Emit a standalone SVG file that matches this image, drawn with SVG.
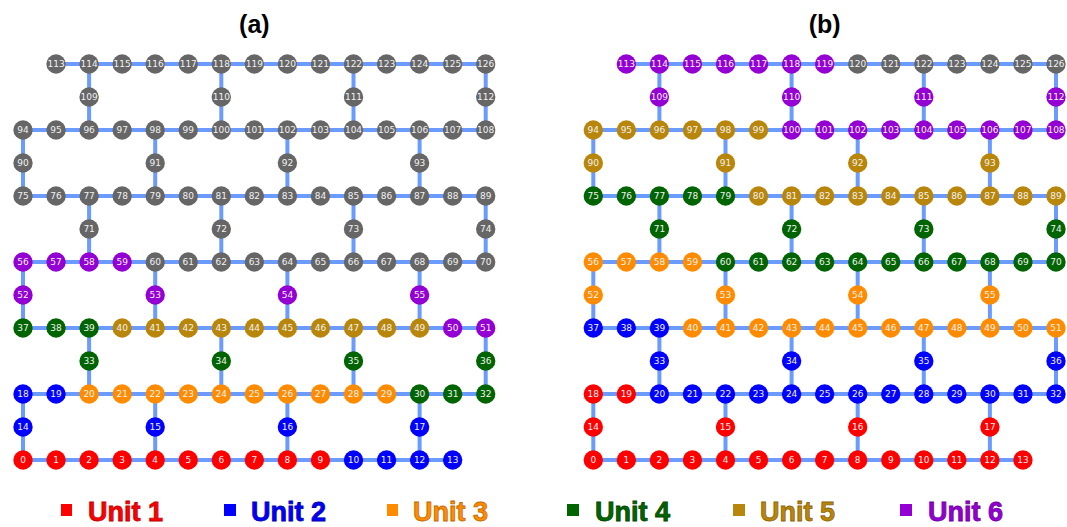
<svg xmlns="http://www.w3.org/2000/svg" width="1067" height="527" viewBox="0 0 1067 527">
<style>
.edges{fill:none;stroke:#6b9bff;stroke-width:4;stroke-linecap:butt}
.n circle{r:9.7px}
.n text{font-family:"DejaVu Sans",sans-serif;font-size:9px;fill:#f2f2f2;text-anchor:middle}
.u1 circle{fill:#ff0000}.u2 circle{fill:#0000ff}.u3 circle{fill:#ff8c00}.u4 circle{fill:#006400}.u5 circle{fill:#b8860b}.u6 circle{fill:#9400d3}.g circle{fill:#666666}
.title{font-family:"Liberation Sans",Arial,sans-serif;font-weight:bold;font-size:25px;fill:#000;text-anchor:middle}
.leg{font-family:"Liberation Sans",Arial,sans-serif;font-weight:bold;font-size:27px;stroke-width:0.8}
</style>
<defs>
<path id="lattice" d="M56.05 64H485.7 M23 130H485.7 M23 196H485.7 M23 262H485.7 M23 328H485.7 M23 394H485.7 M23 460H452.65 M89.1 64V130 M221.3 64V130 M353.5 64V130 M485.7 64V130 M23 130V196 M155.2 130V196 M287.4 130V196 M419.6 130V196 M89.1 196V262 M221.3 196V262 M353.5 196V262 M485.7 196V262 M23 262V328 M155.2 262V328 M287.4 262V328 M419.6 262V328 M89.1 328V394 M221.3 328V394 M353.5 328V394 M485.7 328V394 M23 394V460 M155.2 394V460 M287.4 394V460 M419.6 394V460"/>
</defs>
<rect width="1067" height="527" fill="#ffffff"/>
<text class="title" x="254.35" y="33">(a)</text>
<text class="title" x="824.65" y="33">(b)</text>
<g id="connectors">
<use href="#lattice" class="edges"/>
<use href="#lattice" class="edges" transform="translate(570.3,0)"/>
</g>
<g id="panel-a">
<g id="a-q0" class="n u1" transform="translate(23,460)"><circle/><text y="3.2">0</text></g>
<g id="a-q1" class="n u1" transform="translate(56.05,460)"><circle/><text y="3.2">1</text></g>
<g id="a-q2" class="n u1" transform="translate(89.1,460)"><circle/><text y="3.2">2</text></g>
<g id="a-q3" class="n u1" transform="translate(122.15,460)"><circle/><text y="3.2">3</text></g>
<g id="a-q4" class="n u1" transform="translate(155.2,460)"><circle/><text y="3.2">4</text></g>
<g id="a-q5" class="n u1" transform="translate(188.25,460)"><circle/><text y="3.2">5</text></g>
<g id="a-q6" class="n u1" transform="translate(221.3,460)"><circle/><text y="3.2">6</text></g>
<g id="a-q7" class="n u1" transform="translate(254.35,460)"><circle/><text y="3.2">7</text></g>
<g id="a-q8" class="n u1" transform="translate(287.4,460)"><circle/><text y="3.2">8</text></g>
<g id="a-q9" class="n u1" transform="translate(320.45,460)"><circle/><text y="3.2">9</text></g>
<g id="a-q10" class="n u2" transform="translate(353.5,460)"><circle/><text y="3.2">10</text></g>
<g id="a-q11" class="n u2" transform="translate(386.55,460)"><circle/><text y="3.2">11</text></g>
<g id="a-q12" class="n u2" transform="translate(419.6,460)"><circle/><text y="3.2">12</text></g>
<g id="a-q13" class="n u2" transform="translate(452.65,460)"><circle/><text y="3.2">13</text></g>
<g id="a-q14" class="n u2" transform="translate(23,427)"><circle/><text y="3.2">14</text></g>
<g id="a-q15" class="n u2" transform="translate(155.2,427)"><circle/><text y="3.2">15</text></g>
<g id="a-q16" class="n u2" transform="translate(287.4,427)"><circle/><text y="3.2">16</text></g>
<g id="a-q17" class="n u2" transform="translate(419.6,427)"><circle/><text y="3.2">17</text></g>
<g id="a-q18" class="n u2" transform="translate(23,394)"><circle/><text y="3.2">18</text></g>
<g id="a-q19" class="n u2" transform="translate(56.05,394)"><circle/><text y="3.2">19</text></g>
<g id="a-q20" class="n u3" transform="translate(89.1,394)"><circle/><text y="3.2">20</text></g>
<g id="a-q21" class="n u3" transform="translate(122.15,394)"><circle/><text y="3.2">21</text></g>
<g id="a-q22" class="n u3" transform="translate(155.2,394)"><circle/><text y="3.2">22</text></g>
<g id="a-q23" class="n u3" transform="translate(188.25,394)"><circle/><text y="3.2">23</text></g>
<g id="a-q24" class="n u3" transform="translate(221.3,394)"><circle/><text y="3.2">24</text></g>
<g id="a-q25" class="n u3" transform="translate(254.35,394)"><circle/><text y="3.2">25</text></g>
<g id="a-q26" class="n u3" transform="translate(287.4,394)"><circle/><text y="3.2">26</text></g>
<g id="a-q27" class="n u3" transform="translate(320.45,394)"><circle/><text y="3.2">27</text></g>
<g id="a-q28" class="n u3" transform="translate(353.5,394)"><circle/><text y="3.2">28</text></g>
<g id="a-q29" class="n u3" transform="translate(386.55,394)"><circle/><text y="3.2">29</text></g>
<g id="a-q30" class="n u4" transform="translate(419.6,394)"><circle/><text y="3.2">30</text></g>
<g id="a-q31" class="n u4" transform="translate(452.65,394)"><circle/><text y="3.2">31</text></g>
<g id="a-q32" class="n u4" transform="translate(485.7,394)"><circle/><text y="3.2">32</text></g>
<g id="a-q33" class="n u4" transform="translate(89.1,361)"><circle/><text y="3.2">33</text></g>
<g id="a-q34" class="n u4" transform="translate(221.3,361)"><circle/><text y="3.2">34</text></g>
<g id="a-q35" class="n u4" transform="translate(353.5,361)"><circle/><text y="3.2">35</text></g>
<g id="a-q36" class="n u4" transform="translate(485.7,361)"><circle/><text y="3.2">36</text></g>
<g id="a-q37" class="n u4" transform="translate(23,328)"><circle/><text y="3.2">37</text></g>
<g id="a-q38" class="n u4" transform="translate(56.05,328)"><circle/><text y="3.2">38</text></g>
<g id="a-q39" class="n u4" transform="translate(89.1,328)"><circle/><text y="3.2">39</text></g>
<g id="a-q40" class="n u5" transform="translate(122.15,328)"><circle/><text y="3.2">40</text></g>
<g id="a-q41" class="n u5" transform="translate(155.2,328)"><circle/><text y="3.2">41</text></g>
<g id="a-q42" class="n u5" transform="translate(188.25,328)"><circle/><text y="3.2">42</text></g>
<g id="a-q43" class="n u5" transform="translate(221.3,328)"><circle/><text y="3.2">43</text></g>
<g id="a-q44" class="n u5" transform="translate(254.35,328)"><circle/><text y="3.2">44</text></g>
<g id="a-q45" class="n u5" transform="translate(287.4,328)"><circle/><text y="3.2">45</text></g>
<g id="a-q46" class="n u5" transform="translate(320.45,328)"><circle/><text y="3.2">46</text></g>
<g id="a-q47" class="n u5" transform="translate(353.5,328)"><circle/><text y="3.2">47</text></g>
<g id="a-q48" class="n u5" transform="translate(386.55,328)"><circle/><text y="3.2">48</text></g>
<g id="a-q49" class="n u5" transform="translate(419.6,328)"><circle/><text y="3.2">49</text></g>
<g id="a-q50" class="n u6" transform="translate(452.65,328)"><circle/><text y="3.2">50</text></g>
<g id="a-q51" class="n u6" transform="translate(485.7,328)"><circle/><text y="3.2">51</text></g>
<g id="a-q52" class="n u6" transform="translate(23,295)"><circle/><text y="3.2">52</text></g>
<g id="a-q53" class="n u6" transform="translate(155.2,295)"><circle/><text y="3.2">53</text></g>
<g id="a-q54" class="n u6" transform="translate(287.4,295)"><circle/><text y="3.2">54</text></g>
<g id="a-q55" class="n u6" transform="translate(419.6,295)"><circle/><text y="3.2">55</text></g>
<g id="a-q56" class="n u6" transform="translate(23,262)"><circle/><text y="3.2">56</text></g>
<g id="a-q57" class="n u6" transform="translate(56.05,262)"><circle/><text y="3.2">57</text></g>
<g id="a-q58" class="n u6" transform="translate(89.1,262)"><circle/><text y="3.2">58</text></g>
<g id="a-q59" class="n u6" transform="translate(122.15,262)"><circle/><text y="3.2">59</text></g>
<g id="a-q60" class="n g" transform="translate(155.2,262)"><circle/><text y="3.2">60</text></g>
<g id="a-q61" class="n g" transform="translate(188.25,262)"><circle/><text y="3.2">61</text></g>
<g id="a-q62" class="n g" transform="translate(221.3,262)"><circle/><text y="3.2">62</text></g>
<g id="a-q63" class="n g" transform="translate(254.35,262)"><circle/><text y="3.2">63</text></g>
<g id="a-q64" class="n g" transform="translate(287.4,262)"><circle/><text y="3.2">64</text></g>
<g id="a-q65" class="n g" transform="translate(320.45,262)"><circle/><text y="3.2">65</text></g>
<g id="a-q66" class="n g" transform="translate(353.5,262)"><circle/><text y="3.2">66</text></g>
<g id="a-q67" class="n g" transform="translate(386.55,262)"><circle/><text y="3.2">67</text></g>
<g id="a-q68" class="n g" transform="translate(419.6,262)"><circle/><text y="3.2">68</text></g>
<g id="a-q69" class="n g" transform="translate(452.65,262)"><circle/><text y="3.2">69</text></g>
<g id="a-q70" class="n g" transform="translate(485.7,262)"><circle/><text y="3.2">70</text></g>
<g id="a-q71" class="n g" transform="translate(89.1,229)"><circle/><text y="3.2">71</text></g>
<g id="a-q72" class="n g" transform="translate(221.3,229)"><circle/><text y="3.2">72</text></g>
<g id="a-q73" class="n g" transform="translate(353.5,229)"><circle/><text y="3.2">73</text></g>
<g id="a-q74" class="n g" transform="translate(485.7,229)"><circle/><text y="3.2">74</text></g>
<g id="a-q75" class="n g" transform="translate(23,196)"><circle/><text y="3.2">75</text></g>
<g id="a-q76" class="n g" transform="translate(56.05,196)"><circle/><text y="3.2">76</text></g>
<g id="a-q77" class="n g" transform="translate(89.1,196)"><circle/><text y="3.2">77</text></g>
<g id="a-q78" class="n g" transform="translate(122.15,196)"><circle/><text y="3.2">78</text></g>
<g id="a-q79" class="n g" transform="translate(155.2,196)"><circle/><text y="3.2">79</text></g>
<g id="a-q80" class="n g" transform="translate(188.25,196)"><circle/><text y="3.2">80</text></g>
<g id="a-q81" class="n g" transform="translate(221.3,196)"><circle/><text y="3.2">81</text></g>
<g id="a-q82" class="n g" transform="translate(254.35,196)"><circle/><text y="3.2">82</text></g>
<g id="a-q83" class="n g" transform="translate(287.4,196)"><circle/><text y="3.2">83</text></g>
<g id="a-q84" class="n g" transform="translate(320.45,196)"><circle/><text y="3.2">84</text></g>
<g id="a-q85" class="n g" transform="translate(353.5,196)"><circle/><text y="3.2">85</text></g>
<g id="a-q86" class="n g" transform="translate(386.55,196)"><circle/><text y="3.2">86</text></g>
<g id="a-q87" class="n g" transform="translate(419.6,196)"><circle/><text y="3.2">87</text></g>
<g id="a-q88" class="n g" transform="translate(452.65,196)"><circle/><text y="3.2">88</text></g>
<g id="a-q89" class="n g" transform="translate(485.7,196)"><circle/><text y="3.2">89</text></g>
<g id="a-q90" class="n g" transform="translate(23,163)"><circle/><text y="3.2">90</text></g>
<g id="a-q91" class="n g" transform="translate(155.2,163)"><circle/><text y="3.2">91</text></g>
<g id="a-q92" class="n g" transform="translate(287.4,163)"><circle/><text y="3.2">92</text></g>
<g id="a-q93" class="n g" transform="translate(419.6,163)"><circle/><text y="3.2">93</text></g>
<g id="a-q94" class="n g" transform="translate(23,130)"><circle/><text y="3.2">94</text></g>
<g id="a-q95" class="n g" transform="translate(56.05,130)"><circle/><text y="3.2">95</text></g>
<g id="a-q96" class="n g" transform="translate(89.1,130)"><circle/><text y="3.2">96</text></g>
<g id="a-q97" class="n g" transform="translate(122.15,130)"><circle/><text y="3.2">97</text></g>
<g id="a-q98" class="n g" transform="translate(155.2,130)"><circle/><text y="3.2">98</text></g>
<g id="a-q99" class="n g" transform="translate(188.25,130)"><circle/><text y="3.2">99</text></g>
<g id="a-q100" class="n g" transform="translate(221.3,130)"><circle/><text y="3.2">100</text></g>
<g id="a-q101" class="n g" transform="translate(254.35,130)"><circle/><text y="3.2">101</text></g>
<g id="a-q102" class="n g" transform="translate(287.4,130)"><circle/><text y="3.2">102</text></g>
<g id="a-q103" class="n g" transform="translate(320.45,130)"><circle/><text y="3.2">103</text></g>
<g id="a-q104" class="n g" transform="translate(353.5,130)"><circle/><text y="3.2">104</text></g>
<g id="a-q105" class="n g" transform="translate(386.55,130)"><circle/><text y="3.2">105</text></g>
<g id="a-q106" class="n g" transform="translate(419.6,130)"><circle/><text y="3.2">106</text></g>
<g id="a-q107" class="n g" transform="translate(452.65,130)"><circle/><text y="3.2">107</text></g>
<g id="a-q108" class="n g" transform="translate(485.7,130)"><circle/><text y="3.2">108</text></g>
<g id="a-q109" class="n g" transform="translate(89.1,97)"><circle/><text y="3.2">109</text></g>
<g id="a-q110" class="n g" transform="translate(221.3,97)"><circle/><text y="3.2">110</text></g>
<g id="a-q111" class="n g" transform="translate(353.5,97)"><circle/><text y="3.2">111</text></g>
<g id="a-q112" class="n g" transform="translate(485.7,97)"><circle/><text y="3.2">112</text></g>
<g id="a-q113" class="n g" transform="translate(56.05,64)"><circle/><text y="3.2">113</text></g>
<g id="a-q114" class="n g" transform="translate(89.1,64)"><circle/><text y="3.2">114</text></g>
<g id="a-q115" class="n g" transform="translate(122.15,64)"><circle/><text y="3.2">115</text></g>
<g id="a-q116" class="n g" transform="translate(155.2,64)"><circle/><text y="3.2">116</text></g>
<g id="a-q117" class="n g" transform="translate(188.25,64)"><circle/><text y="3.2">117</text></g>
<g id="a-q118" class="n g" transform="translate(221.3,64)"><circle/><text y="3.2">118</text></g>
<g id="a-q119" class="n g" transform="translate(254.35,64)"><circle/><text y="3.2">119</text></g>
<g id="a-q120" class="n g" transform="translate(287.4,64)"><circle/><text y="3.2">120</text></g>
<g id="a-q121" class="n g" transform="translate(320.45,64)"><circle/><text y="3.2">121</text></g>
<g id="a-q122" class="n g" transform="translate(353.5,64)"><circle/><text y="3.2">122</text></g>
<g id="a-q123" class="n g" transform="translate(386.55,64)"><circle/><text y="3.2">123</text></g>
<g id="a-q124" class="n g" transform="translate(419.6,64)"><circle/><text y="3.2">124</text></g>
<g id="a-q125" class="n g" transform="translate(452.65,64)"><circle/><text y="3.2">125</text></g>
<g id="a-q126" class="n g" transform="translate(485.7,64)"><circle/><text y="3.2">126</text></g>
</g>
<g id="panel-b" transform="translate(570.3,0)">
<g id="b-q0" class="n u1" transform="translate(23,460)"><circle/><text y="3.2">0</text></g>
<g id="b-q1" class="n u1" transform="translate(56.05,460)"><circle/><text y="3.2">1</text></g>
<g id="b-q2" class="n u1" transform="translate(89.1,460)"><circle/><text y="3.2">2</text></g>
<g id="b-q3" class="n u1" transform="translate(122.15,460)"><circle/><text y="3.2">3</text></g>
<g id="b-q4" class="n u1" transform="translate(155.2,460)"><circle/><text y="3.2">4</text></g>
<g id="b-q5" class="n u1" transform="translate(188.25,460)"><circle/><text y="3.2">5</text></g>
<g id="b-q6" class="n u1" transform="translate(221.3,460)"><circle/><text y="3.2">6</text></g>
<g id="b-q7" class="n u1" transform="translate(254.35,460)"><circle/><text y="3.2">7</text></g>
<g id="b-q8" class="n u1" transform="translate(287.4,460)"><circle/><text y="3.2">8</text></g>
<g id="b-q9" class="n u1" transform="translate(320.45,460)"><circle/><text y="3.2">9</text></g>
<g id="b-q10" class="n u1" transform="translate(353.5,460)"><circle/><text y="3.2">10</text></g>
<g id="b-q11" class="n u1" transform="translate(386.55,460)"><circle/><text y="3.2">11</text></g>
<g id="b-q12" class="n u1" transform="translate(419.6,460)"><circle/><text y="3.2">12</text></g>
<g id="b-q13" class="n u1" transform="translate(452.65,460)"><circle/><text y="3.2">13</text></g>
<g id="b-q14" class="n u1" transform="translate(23,427)"><circle/><text y="3.2">14</text></g>
<g id="b-q15" class="n u1" transform="translate(155.2,427)"><circle/><text y="3.2">15</text></g>
<g id="b-q16" class="n u1" transform="translate(287.4,427)"><circle/><text y="3.2">16</text></g>
<g id="b-q17" class="n u1" transform="translate(419.6,427)"><circle/><text y="3.2">17</text></g>
<g id="b-q18" class="n u1" transform="translate(23,394)"><circle/><text y="3.2">18</text></g>
<g id="b-q19" class="n u1" transform="translate(56.05,394)"><circle/><text y="3.2">19</text></g>
<g id="b-q20" class="n u2" transform="translate(89.1,394)"><circle/><text y="3.2">20</text></g>
<g id="b-q21" class="n u2" transform="translate(122.15,394)"><circle/><text y="3.2">21</text></g>
<g id="b-q22" class="n u2" transform="translate(155.2,394)"><circle/><text y="3.2">22</text></g>
<g id="b-q23" class="n u2" transform="translate(188.25,394)"><circle/><text y="3.2">23</text></g>
<g id="b-q24" class="n u2" transform="translate(221.3,394)"><circle/><text y="3.2">24</text></g>
<g id="b-q25" class="n u2" transform="translate(254.35,394)"><circle/><text y="3.2">25</text></g>
<g id="b-q26" class="n u2" transform="translate(287.4,394)"><circle/><text y="3.2">26</text></g>
<g id="b-q27" class="n u2" transform="translate(320.45,394)"><circle/><text y="3.2">27</text></g>
<g id="b-q28" class="n u2" transform="translate(353.5,394)"><circle/><text y="3.2">28</text></g>
<g id="b-q29" class="n u2" transform="translate(386.55,394)"><circle/><text y="3.2">29</text></g>
<g id="b-q30" class="n u2" transform="translate(419.6,394)"><circle/><text y="3.2">30</text></g>
<g id="b-q31" class="n u2" transform="translate(452.65,394)"><circle/><text y="3.2">31</text></g>
<g id="b-q32" class="n u2" transform="translate(485.7,394)"><circle/><text y="3.2">32</text></g>
<g id="b-q33" class="n u2" transform="translate(89.1,361)"><circle/><text y="3.2">33</text></g>
<g id="b-q34" class="n u2" transform="translate(221.3,361)"><circle/><text y="3.2">34</text></g>
<g id="b-q35" class="n u2" transform="translate(353.5,361)"><circle/><text y="3.2">35</text></g>
<g id="b-q36" class="n u2" transform="translate(485.7,361)"><circle/><text y="3.2">36</text></g>
<g id="b-q37" class="n u2" transform="translate(23,328)"><circle/><text y="3.2">37</text></g>
<g id="b-q38" class="n u2" transform="translate(56.05,328)"><circle/><text y="3.2">38</text></g>
<g id="b-q39" class="n u2" transform="translate(89.1,328)"><circle/><text y="3.2">39</text></g>
<g id="b-q40" class="n u3" transform="translate(122.15,328)"><circle/><text y="3.2">40</text></g>
<g id="b-q41" class="n u3" transform="translate(155.2,328)"><circle/><text y="3.2">41</text></g>
<g id="b-q42" class="n u3" transform="translate(188.25,328)"><circle/><text y="3.2">42</text></g>
<g id="b-q43" class="n u3" transform="translate(221.3,328)"><circle/><text y="3.2">43</text></g>
<g id="b-q44" class="n u3" transform="translate(254.35,328)"><circle/><text y="3.2">44</text></g>
<g id="b-q45" class="n u3" transform="translate(287.4,328)"><circle/><text y="3.2">45</text></g>
<g id="b-q46" class="n u3" transform="translate(320.45,328)"><circle/><text y="3.2">46</text></g>
<g id="b-q47" class="n u3" transform="translate(353.5,328)"><circle/><text y="3.2">47</text></g>
<g id="b-q48" class="n u3" transform="translate(386.55,328)"><circle/><text y="3.2">48</text></g>
<g id="b-q49" class="n u3" transform="translate(419.6,328)"><circle/><text y="3.2">49</text></g>
<g id="b-q50" class="n u3" transform="translate(452.65,328)"><circle/><text y="3.2">50</text></g>
<g id="b-q51" class="n u3" transform="translate(485.7,328)"><circle/><text y="3.2">51</text></g>
<g id="b-q52" class="n u3" transform="translate(23,295)"><circle/><text y="3.2">52</text></g>
<g id="b-q53" class="n u3" transform="translate(155.2,295)"><circle/><text y="3.2">53</text></g>
<g id="b-q54" class="n u3" transform="translate(287.4,295)"><circle/><text y="3.2">54</text></g>
<g id="b-q55" class="n u3" transform="translate(419.6,295)"><circle/><text y="3.2">55</text></g>
<g id="b-q56" class="n u3" transform="translate(23,262)"><circle/><text y="3.2">56</text></g>
<g id="b-q57" class="n u3" transform="translate(56.05,262)"><circle/><text y="3.2">57</text></g>
<g id="b-q58" class="n u3" transform="translate(89.1,262)"><circle/><text y="3.2">58</text></g>
<g id="b-q59" class="n u3" transform="translate(122.15,262)"><circle/><text y="3.2">59</text></g>
<g id="b-q60" class="n u4" transform="translate(155.2,262)"><circle/><text y="3.2">60</text></g>
<g id="b-q61" class="n u4" transform="translate(188.25,262)"><circle/><text y="3.2">61</text></g>
<g id="b-q62" class="n u4" transform="translate(221.3,262)"><circle/><text y="3.2">62</text></g>
<g id="b-q63" class="n u4" transform="translate(254.35,262)"><circle/><text y="3.2">63</text></g>
<g id="b-q64" class="n u4" transform="translate(287.4,262)"><circle/><text y="3.2">64</text></g>
<g id="b-q65" class="n u4" transform="translate(320.45,262)"><circle/><text y="3.2">65</text></g>
<g id="b-q66" class="n u4" transform="translate(353.5,262)"><circle/><text y="3.2">66</text></g>
<g id="b-q67" class="n u4" transform="translate(386.55,262)"><circle/><text y="3.2">67</text></g>
<g id="b-q68" class="n u4" transform="translate(419.6,262)"><circle/><text y="3.2">68</text></g>
<g id="b-q69" class="n u4" transform="translate(452.65,262)"><circle/><text y="3.2">69</text></g>
<g id="b-q70" class="n u4" transform="translate(485.7,262)"><circle/><text y="3.2">70</text></g>
<g id="b-q71" class="n u4" transform="translate(89.1,229)"><circle/><text y="3.2">71</text></g>
<g id="b-q72" class="n u4" transform="translate(221.3,229)"><circle/><text y="3.2">72</text></g>
<g id="b-q73" class="n u4" transform="translate(353.5,229)"><circle/><text y="3.2">73</text></g>
<g id="b-q74" class="n u4" transform="translate(485.7,229)"><circle/><text y="3.2">74</text></g>
<g id="b-q75" class="n u4" transform="translate(23,196)"><circle/><text y="3.2">75</text></g>
<g id="b-q76" class="n u4" transform="translate(56.05,196)"><circle/><text y="3.2">76</text></g>
<g id="b-q77" class="n u4" transform="translate(89.1,196)"><circle/><text y="3.2">77</text></g>
<g id="b-q78" class="n u4" transform="translate(122.15,196)"><circle/><text y="3.2">78</text></g>
<g id="b-q79" class="n u4" transform="translate(155.2,196)"><circle/><text y="3.2">79</text></g>
<g id="b-q80" class="n u5" transform="translate(188.25,196)"><circle/><text y="3.2">80</text></g>
<g id="b-q81" class="n u5" transform="translate(221.3,196)"><circle/><text y="3.2">81</text></g>
<g id="b-q82" class="n u5" transform="translate(254.35,196)"><circle/><text y="3.2">82</text></g>
<g id="b-q83" class="n u5" transform="translate(287.4,196)"><circle/><text y="3.2">83</text></g>
<g id="b-q84" class="n u5" transform="translate(320.45,196)"><circle/><text y="3.2">84</text></g>
<g id="b-q85" class="n u5" transform="translate(353.5,196)"><circle/><text y="3.2">85</text></g>
<g id="b-q86" class="n u5" transform="translate(386.55,196)"><circle/><text y="3.2">86</text></g>
<g id="b-q87" class="n u5" transform="translate(419.6,196)"><circle/><text y="3.2">87</text></g>
<g id="b-q88" class="n u5" transform="translate(452.65,196)"><circle/><text y="3.2">88</text></g>
<g id="b-q89" class="n u5" transform="translate(485.7,196)"><circle/><text y="3.2">89</text></g>
<g id="b-q90" class="n u5" transform="translate(23,163)"><circle/><text y="3.2">90</text></g>
<g id="b-q91" class="n u5" transform="translate(155.2,163)"><circle/><text y="3.2">91</text></g>
<g id="b-q92" class="n u5" transform="translate(287.4,163)"><circle/><text y="3.2">92</text></g>
<g id="b-q93" class="n u5" transform="translate(419.6,163)"><circle/><text y="3.2">93</text></g>
<g id="b-q94" class="n u5" transform="translate(23,130)"><circle/><text y="3.2">94</text></g>
<g id="b-q95" class="n u5" transform="translate(56.05,130)"><circle/><text y="3.2">95</text></g>
<g id="b-q96" class="n u5" transform="translate(89.1,130)"><circle/><text y="3.2">96</text></g>
<g id="b-q97" class="n u5" transform="translate(122.15,130)"><circle/><text y="3.2">97</text></g>
<g id="b-q98" class="n u5" transform="translate(155.2,130)"><circle/><text y="3.2">98</text></g>
<g id="b-q99" class="n u5" transform="translate(188.25,130)"><circle/><text y="3.2">99</text></g>
<g id="b-q100" class="n u6" transform="translate(221.3,130)"><circle/><text y="3.2">100</text></g>
<g id="b-q101" class="n u6" transform="translate(254.35,130)"><circle/><text y="3.2">101</text></g>
<g id="b-q102" class="n u6" transform="translate(287.4,130)"><circle/><text y="3.2">102</text></g>
<g id="b-q103" class="n u6" transform="translate(320.45,130)"><circle/><text y="3.2">103</text></g>
<g id="b-q104" class="n u6" transform="translate(353.5,130)"><circle/><text y="3.2">104</text></g>
<g id="b-q105" class="n u6" transform="translate(386.55,130)"><circle/><text y="3.2">105</text></g>
<g id="b-q106" class="n u6" transform="translate(419.6,130)"><circle/><text y="3.2">106</text></g>
<g id="b-q107" class="n u6" transform="translate(452.65,130)"><circle/><text y="3.2">107</text></g>
<g id="b-q108" class="n u6" transform="translate(485.7,130)"><circle/><text y="3.2">108</text></g>
<g id="b-q109" class="n u6" transform="translate(89.1,97)"><circle/><text y="3.2">109</text></g>
<g id="b-q110" class="n u6" transform="translate(221.3,97)"><circle/><text y="3.2">110</text></g>
<g id="b-q111" class="n u6" transform="translate(353.5,97)"><circle/><text y="3.2">111</text></g>
<g id="b-q112" class="n u6" transform="translate(485.7,97)"><circle/><text y="3.2">112</text></g>
<g id="b-q113" class="n u6" transform="translate(56.05,64)"><circle/><text y="3.2">113</text></g>
<g id="b-q114" class="n u6" transform="translate(89.1,64)"><circle/><text y="3.2">114</text></g>
<g id="b-q115" class="n u6" transform="translate(122.15,64)"><circle/><text y="3.2">115</text></g>
<g id="b-q116" class="n u6" transform="translate(155.2,64)"><circle/><text y="3.2">116</text></g>
<g id="b-q117" class="n u6" transform="translate(188.25,64)"><circle/><text y="3.2">117</text></g>
<g id="b-q118" class="n u6" transform="translate(221.3,64)"><circle/><text y="3.2">118</text></g>
<g id="b-q119" class="n u6" transform="translate(254.35,64)"><circle/><text y="3.2">119</text></g>
<g id="b-q120" class="n g" transform="translate(287.4,64)"><circle/><text y="3.2">120</text></g>
<g id="b-q121" class="n g" transform="translate(320.45,64)"><circle/><text y="3.2">121</text></g>
<g id="b-q122" class="n g" transform="translate(353.5,64)"><circle/><text y="3.2">122</text></g>
<g id="b-q123" class="n g" transform="translate(386.55,64)"><circle/><text y="3.2">123</text></g>
<g id="b-q124" class="n g" transform="translate(419.6,64)"><circle/><text y="3.2">124</text></g>
<g id="b-q125" class="n g" transform="translate(452.65,64)"><circle/><text y="3.2">125</text></g>
<g id="b-q126" class="n g" transform="translate(485.7,64)"><circle/><text y="3.2">126</text></g>
</g>
<g id="legend">
<rect x="61" y="504" width="11" height="12" fill="#ff0000"/>
<text class="leg" x="88" y="521" fill="#ff0000" stroke="#c00000">Unit 1</text>
<rect x="224" y="504" width="12" height="12" fill="#0000ff"/>
<text class="leg" x="251" y="521" fill="#0000ff" stroke="#0000b0">Unit 2</text>
<rect x="387" y="504" width="11" height="12" fill="#ff8c00"/>
<text class="leg" x="413" y="521" fill="#ff8c00" stroke="#c06800">Unit 3</text>
<rect x="567" y="504" width="12" height="12" fill="#006400"/>
<text class="leg" x="595" y="521" fill="#006400" stroke="#004400">Unit 4</text>
<rect x="733" y="504" width="12" height="12" fill="#b8860b"/>
<text class="leg" x="760" y="521" fill="#b8860b" stroke="#8a6408">Unit 5</text>
<rect x="900" y="504" width="12" height="12" fill="#9400d3"/>
<text class="leg" x="928" y="521" fill="#9400d3" stroke="#6e009e">Unit 6</text>
</g>
</svg>
